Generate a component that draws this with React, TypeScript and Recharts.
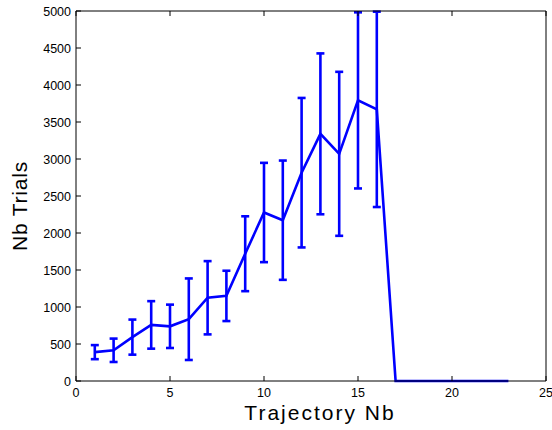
import React from "react";
import { LineChart, Line, XAxis, YAxis, ErrorBar, Label } from "recharts";

const trajectoryNb = [1, 2, 3, 4, 5, 6, 7, 8, 9, 10, 11, 12, 13, 14, 15, 16, 17, 18, 19, 20, 21, 22, 23];
const meanTrials = [390, 415, 593, 758, 739, 835, 1125, 1150, 1720, 2277, 2173, 2815, 3340, 3070, 3792, 3671, 0, 0, 0, 0, 0, 0, 0];
const errTrials: (number | null)[] = [95, 158, 237, 321, 293, 551, 495, 340, 506, 671, 806, 1010, 1087, 1108, 1190, 1320, null, null, null, null, null, null, null];
const xTicks = [0, 5, 10, 15, 20, 25];
const yTicks = [0, 500, 1000, 1500, 2000, 2500, 3000, 3500, 4000, 4500, 5000];

const data = trajectoryNb.map((x, i) => ({ x, y: meanTrials[i], err: errTrials[i] }));

const FONT = "'Liberation Sans', Arial, Helvetica, sans-serif";
const BLUE = "#0000ff";

const BottomTick = (props: any) => {
  const { x, y, payload } = props;
  return (
    <g>
      <line x1={x} y1={y} x2={x} y2={y - 5} stroke="#000" strokeWidth={1} />
      <text x={x} y={y + 16} textAnchor="middle" fontFamily={FONT} fontSize={12.5} fill="#000">
        {payload.value}
      </text>
    </g>
  );
};

const TopTick = (props: any) => {
  const { x, y } = props;
  return <line x1={x} y1={y} x2={x} y2={y + 5} stroke="#000" strokeWidth={1} />;
};

const LeftTick = (props: any) => {
  const { x, y, payload } = props;
  return (
    <g>
      <line x1={x} y1={y} x2={x + 5} y2={y} stroke="#000" strokeWidth={1} />
      <text x={x - 5} y={y + 4.5} textAnchor="end" fontFamily={FONT} fontSize={12.5} fill="#000">
        {payload.value}
      </text>
    </g>
  );
};

const RightTick = (props: any) => {
  const { x, y } = props;
  return <line x1={x} y1={y} x2={x - 5} y2={y} stroke="#000" strokeWidth={1} />;
};

const XLabel = (props: any) => {
  const { viewBox } = props;
  const cx = viewBox.x + viewBox.width / 2 + 9;
  return (
    <text x={cx} y={viewBox.y + 39} textAnchor="middle" fontFamily={FONT} fontSize={21} letterSpacing={2} fill="#000">
      Trajectory Nb
    </text>
  );
};

const YLabel = (props: any) => {
  const { viewBox } = props;
  const cy = viewBox.y + viewBox.height / 2 + 10;
  const bx = 27;
  return (
    <text
      x={bx}
      y={cy}
      transform={`rotate(-90, ${bx}, ${cy})`}
      textAnchor="middle"
      fontFamily={FONT}
      fontSize={21}
      letterSpacing={0.8}
      fill="#000"
    >
      Nb Trials
    </text>
  );
};

export default function App() {
  return (
    <div style={{ position: "absolute", left: 0, top: 0, width: 552, height: 430, background: "#fff" }}>
      <LineChart width={552} height={430} data={data} margin={{ top: 10, right: 5, bottom: 0, left: 0 }}>
        <XAxis
          xAxisId="b"
          dataKey="x"
          type="number"
          domain={[0, 25]}
          ticks={xTicks}
          interval={0}
          height={49}
          tickSize={0}
          tickMargin={0}
          tickLine={false}
          axisLine={{ stroke: "#000", strokeWidth: 1 }}
          tick={<BottomTick />}
        >
          <Label content={<XLabel />} />
        </XAxis>
        <XAxis
          xAxisId="t"
          orientation="top"
          dataKey="x"
          type="number"
          domain={[0, 25]}
          ticks={xTicks}
          interval={0}
          height={1}
          tickSize={0}
          tickMargin={0}
          tickLine={false}
          axisLine={{ stroke: "#000", strokeWidth: 1 }}
          tick={<TopTick />}
        />
        <YAxis
          yAxisId="l"
          type="number"
          domain={[0, 5000]}
          ticks={yTicks}
          interval={0}
          width={76}
          tickSize={0}
          tickMargin={0}
          tickLine={false}
          axisLine={{ stroke: "#000", strokeWidth: 1 }}
          tick={<LeftTick />}
        >
          <Label content={<YLabel />} />
        </YAxis>
        <YAxis
          yAxisId="r"
          orientation="right"
          type="number"
          domain={[0, 5000]}
          ticks={yTicks}
          interval={0}
          width={1}
          tickSize={0}
          tickMargin={0}
          tickLine={false}
          axisLine={{ stroke: "#000", strokeWidth: 1 }}
          tick={<RightTick />}
        />
        <Line
          xAxisId="b"
          yAxisId="l"
          dataKey="y"
          stroke={BLUE}
          strokeWidth={2.6}
          dot={false}
          activeDot={false}
          isAnimationActive={false}
        >
          <ErrorBar dataKey="err" direction="y" width={4} stroke={BLUE} strokeWidth={2.6} isAnimationActive={false} />
        </Line>
      </LineChart>
    </div>
  );
}
